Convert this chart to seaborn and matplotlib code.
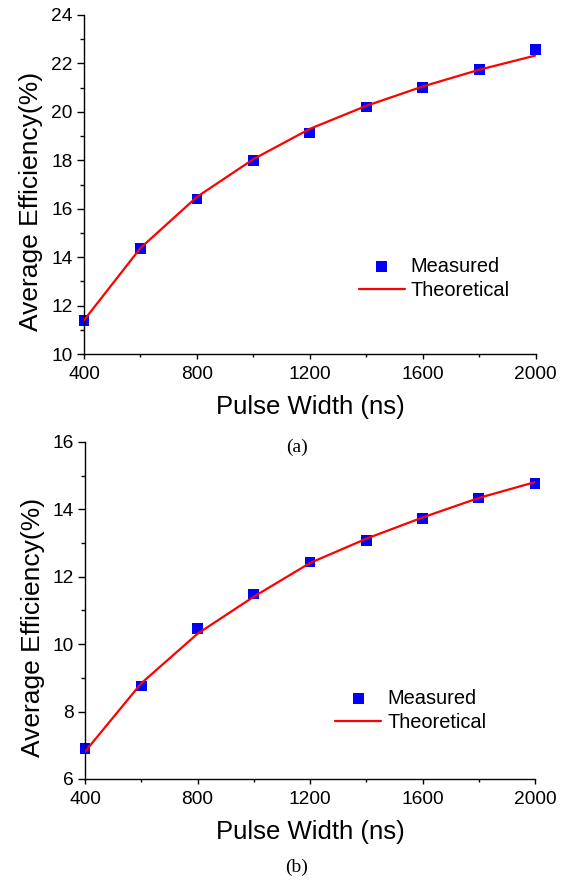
import numpy as np
import pandas as pd
import seaborn as sns
import matplotlib.pyplot as plt
from matplotlib.ticker import MultipleLocator

# data
pulse_width = [400, 600, 800, 1000, 1200, 1400, 1600, 1800, 2000]

measured_a = [11.4, 14.35, 16.4, 18.0, 19.13, 20.2, 21.0, 21.75, 22.56]
theory_a = [11.4, 14.38, 16.49, 18.05, 19.3, 20.25, 21.05, 21.74, 22.33]

measured_b = [6.9, 8.76, 10.46, 11.49, 12.44, 13.08, 13.72, 14.34, 14.76]
theory_b = [6.81, 8.84, 10.31, 11.41, 12.41, 13.13, 13.76, 14.34, 14.81]

sns.set_style("ticks")
plt.rcParams['font.family'] = ['Liberation Sans', 'DejaVu Sans']
plt.rcParams['axes.linewidth'] = 1.0
for k in ['text.color', 'axes.labelcolor', 'xtick.color', 'ytick.color',
          'axes.edgecolor']:
    plt.rcParams[k] = 'black'

fig = plt.figure(figsize=(5.69, 8.81), dpi=100)
ax1 = fig.add_axes([0.1476, 0.598, 0.794, 0.385])
ax2 = fig.add_axes([0.1494, 0.1158, 0.791, 0.3825])

panels = [
    (ax1, measured_a, theory_a, (10, 24), (0.608, 0.223), '(a)', 447),
    (ax2, measured_b, theory_b, (6, 16), (0.556, 0.203), '(b)', 867),
]

for ax, meas, theo, ylim, leg_pos, cap, cap_y in panels:
    df = pd.DataFrame({'w': pulse_width, 'meas': meas, 'theo': theo})
    sns.scatterplot(data=df, x='w', y='meas', ax=ax, marker='s', s=60,
                    color='#0000ff', edgecolor='none', label='Measured',
                    zorder=2, clip_on=False)
    sns.lineplot(data=df, x='w', y='theo', ax=ax, color='#ff0000',
                 linewidth=1.6, label='Theoretical', zorder=3)

    ax.set_xlim(400, 2000)
    ax.set_ylim(*ylim)
    ax.xaxis.set_major_locator(MultipleLocator(400))
    ax.xaxis.set_minor_locator(MultipleLocator(200))
    ax.yaxis.set_major_locator(MultipleLocator(2))
    ax.yaxis.set_minor_locator(MultipleLocator(1))
    ax.tick_params(axis='both', which='major', labelsize=13.8, width=1.0,
                   direction='out', color='black', labelcolor='black')
    ax.tick_params(axis='y', which='major', length=5, pad=3)
    ax.tick_params(axis='y', which='minor', length=3, width=1.0)
    ax.tick_params(axis='x', which='major', length=3.5, pad=5)
    ax.tick_params(axis='x', which='minor', length=2.5, width=1.0)
    sns.despine(ax=ax)

    ax.set_xlabel('Pulse Width (ns)', fontsize=18.5, labelpad=9)
    ax.set_ylabel('Average Efficiency(%)', fontsize=19)
    ax.yaxis.set_label_coords(-0.09, 0.45)

    handles, labels = ax.get_legend_handles_labels()
    order = [labels.index('Measured'), labels.index('Theoretical')]
    ax.legend([handles[i] for i in order], [labels[i] for i in order],
              loc='center left', bbox_to_anchor=leg_pos, frameon=False,
              fontsize=14.4, borderpad=0, borderaxespad=0,
              handlelength=2.3, handletextpad=0.3, labelspacing=0.25)

    fig.text(0.522, 1 - cap_y / 881, cap, ha='center', va='center',
             fontsize=14, family=['Liberation Serif', 'DejaVu Serif'])

fig.savefig('out.png', dpi=100)
